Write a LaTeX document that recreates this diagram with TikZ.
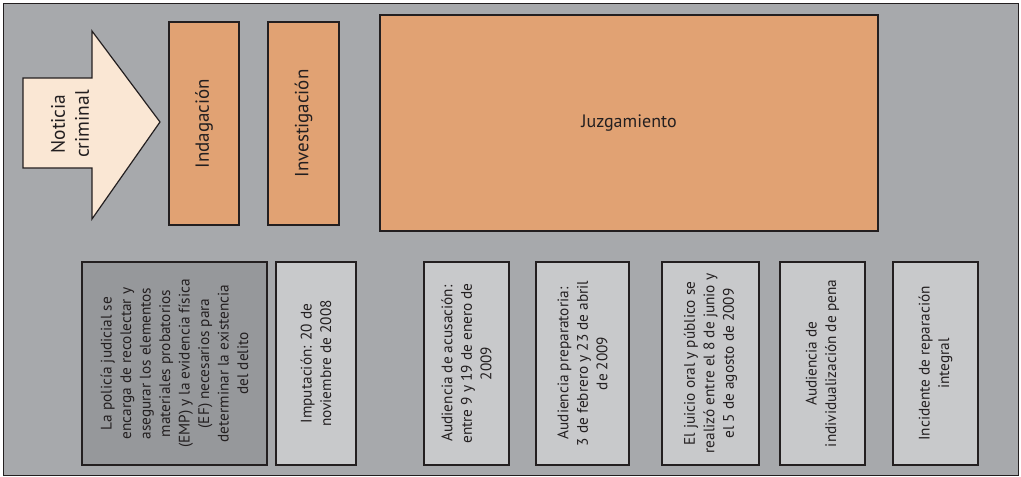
\documentclass[tikz,border=0pt]{standalone}
\usepackage{fontspec}
\setmainfont{PT Sans}
\definecolor{bggray}{HTML}{A7A9AC}
\definecolor{orangebox}{HTML}{E1A273}
\definecolor{arrowfill}{HTML}{FAE7D4}
\definecolor{lightbox}{HTML}{C8C9CB}
\definecolor{darkbox}{HTML}{96989B}
\definecolor{ink}{HTML}{231F20}
\begin{document}
\begin{tikzpicture}[x=1pt,y=-1pt,
  phase/.style={draw=ink,line width=1.3pt,fill=orangebox,inner sep=0pt,text=ink},
  vphase/.style={phase,rotate=90,font=\fontsize{19}{22}\selectfont},
  fact/.style={draw=ink,line width=1.3pt,fill=lightbox,inner sep=0pt,rotate=90,
    minimum width=203pt,align=center,text=ink,font=\fontsize{15.3}{19.5}\selectfont},
  darkfact/.style={fact,fill=darkbox}]
\useasboundingbox (0,0) rectangle (1021,477);
\draw[fill=bggray,draw=ink,line width=0.8pt] (3,3) rectangle (1018,475);
% arrow
\draw[fill=arrowfill,draw=ink,line width=1.2pt] (23,78) -- (92,78) -- (92,31) -- (160,122) -- (92,219) -- (92,168) -- (23,168) -- cycle;
\node[rotate=90,align=center,text=ink,font=\fontsize{19.5}{24}\selectfont] (not) at (70,124) {Noticia\\criminal};
% phases
\node[vphase,minimum width=203pt,minimum height=70pt] (ind) at (204,123.5) {Indagación};
\node[vphase,minimum width=203pt,minimum height=71pt] (inv) at (303.5,123.5) {Investigación};
\node[phase,minimum width=498pt,minimum height=216pt,font=\fontsize{18}{22}\selectfont] (juz) at (629,123) {Juzgamiento};
% facts
\node[darkfact,minimum height=185pt] (pol) at (174.5,363.5) {La policía judicial se\\encarga de recolectar y\\asegurar los elementos\\materiales probatorios\\(EMP) y la evidencia física\\(EF) necesarios para\\determinar la existencia\\del delito};
\node[fact,minimum height=80pt] (imp) at (316,363.5) {Imputación: 20 de\\noviembre de 2008};
\node[fact,minimum height=85pt] (acu) at (466.5,363.5) {Audiencia de acusación:\\entre 9 y 19 de enero de\\2009};
\node[fact,minimum height=93pt] (pre) at (582.5,363.5) {Audiencia preparatoria:\\3 de febrero y 23 de abril\\de 2009};
\node[fact,minimum height=97pt] (jui) at (710.5,363.5) {El juicio oral y público se\\realizó entre el 8 de junio y\\el 5 de agosto de 2009};
\node[fact,minimum height=85pt] (pen) at (822.5,363.5) {Audiencia de\\individualización de pena};
\node[fact,minimum height=85pt] (inc) at (935.5,363.5) {Incidente de reparación\\integral};
\end{tikzpicture}
\end{document}
